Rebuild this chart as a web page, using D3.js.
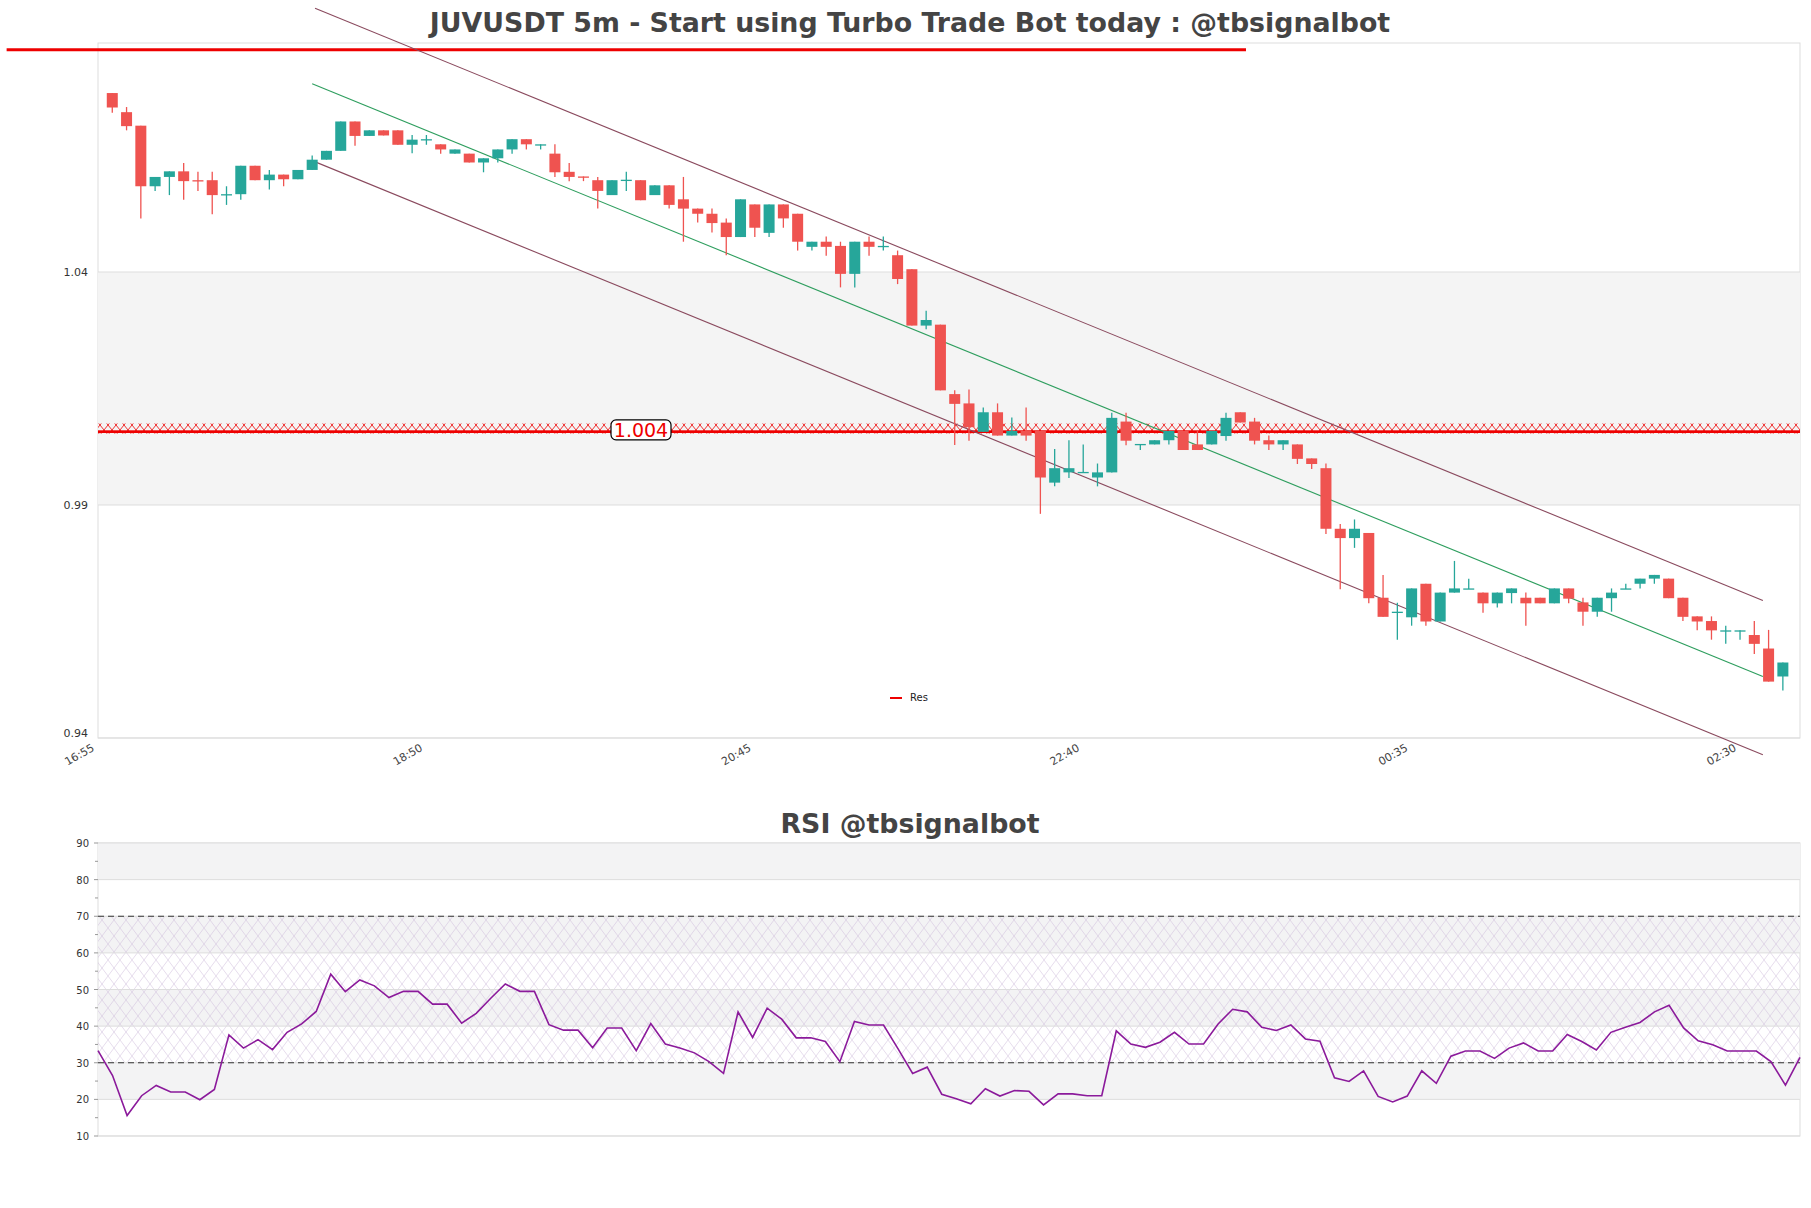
<!DOCTYPE html>
<html><head><meta charset="utf-8">
<script src="https://cdn.jsdelivr.net/npm/d3@7"></script>
<style>body{margin:0;background:#fff}svg{display:block;font-family:"DejaVu Sans",sans-serif}</style>
</head><body><svg id="c" width="1811" height="1208"></svg>
<script>
const opens=[1.0784,1.0743,1.0714,1.0584,1.0604,1.0616,1.0597,1.0597,1.0565,1.0567,1.0628,1.0597,1.0609,1.0599,1.0619,1.0641,1.0660,1.0723,1.0692,1.0704,1.0704,1.0673,1.0684,1.0674,1.0654,1.0654,1.0635,1.0644,1.0663,1.0685,1.0674,1.0654,1.0615,1.0605,1.0597,1.0565,1.0597,1.0597,1.0565,1.0586,1.0556,1.0536,1.0525,1.0506,1.0475,1.0545,1.0484,1.0545,1.0525,1.0454,1.0465,1.0456,1.0396,1.0465,1.0455,1.0436,1.0406,1.0285,1.0287,1.0138,1.0118,1.0057,1.0099,1.0049,1.0059,1.0059,0.9948,0.9970,0.9970,0.9959,0.9970,1.0079,1.0030,1.0030,1.0039,1.0059,1.0030,1.0030,1.0048,1.0099,1.0079,1.0039,1.0030,1.0030,1.0000,0.9979,0.9849,0.9829,0.9840,0.9701,0.9670,0.9659,0.9731,0.9650,0.9712,0.9721,0.9712,0.9689,0.9711,0.9701,0.9701,0.9689,0.9721,0.9691,0.9671,0.9700,0.9720,0.9731,0.9742,0.9742,0.9701,0.9661,0.9651,0.9631,0.9631,0.9621,0.9592,0.9532];
const highs=[1.0784,1.0754,1.0714,1.0604,1.0616,1.0634,1.0615,1.0615,1.0584,1.0628,1.0628,1.0619,1.0609,1.0619,1.0650,1.0660,1.0723,1.0723,1.0704,1.0704,1.0704,1.0694,1.0694,1.0674,1.0663,1.0654,1.0644,1.0663,1.0685,1.0685,1.0674,1.0674,1.0634,1.0605,1.0604,1.0597,1.0615,1.0597,1.0586,1.0586,1.0604,1.0536,1.0536,1.0515,1.0556,1.0545,1.0545,1.0545,1.0525,1.0465,1.0476,1.0465,1.0465,1.0476,1.0476,1.0446,1.0406,1.0317,1.0287,1.0146,1.0148,1.0109,1.0118,1.0088,1.0109,1.0059,1.0020,1.0039,1.0030,0.9989,1.0098,1.0098,1.0031,1.0039,1.0059,1.0059,1.0059,1.0059,1.0098,1.0099,1.0087,1.0049,1.0039,1.0030,1.0000,0.9989,0.9859,0.9869,0.9840,0.9750,0.9690,0.9721,0.9731,0.9712,0.9780,0.9742,0.9712,0.9712,0.9721,0.9712,0.9701,0.9721,0.9721,0.9701,0.9701,0.9721,0.9731,0.9742,0.9750,0.9742,0.9701,0.9661,0.9661,0.9641,0.9631,0.9651,0.9632,0.9562];
const lows=[1.0742,1.0704,1.0515,1.0574,1.0565,1.0555,1.0574,1.0524,1.0544,1.0555,1.0597,1.0577,1.0584,1.0599,1.0619,1.0641,1.0660,1.0671,1.0692,1.0693,1.0673,1.0655,1.0673,1.0654,1.0654,1.0635,1.0614,1.0635,1.0654,1.0663,1.0663,1.0604,1.0595,1.0595,1.0536,1.0565,1.0574,1.0554,1.0565,1.0536,1.0465,1.0506,1.0485,1.0436,1.0475,1.0475,1.0475,1.0495,1.0446,1.0446,1.0435,1.0367,1.0367,1.0435,1.0446,1.0374,1.0285,1.0277,1.0146,1.0029,1.0038,1.0057,1.0049,1.0049,1.0038,0.9881,0.9940,0.9958,0.9970,0.9940,0.9970,1.0028,1.0018,1.0030,1.0030,1.0018,1.0018,1.0030,1.0038,1.0077,1.0030,1.0018,1.0018,0.9988,0.9977,0.9838,0.9719,0.9808,0.9689,0.9660,0.9611,0.9641,0.9641,0.9650,0.9712,0.9720,0.9669,0.9680,0.9689,0.9641,0.9689,0.9689,0.9689,0.9641,0.9660,0.9671,0.9720,0.9721,0.9731,0.9700,0.9651,0.9631,0.9611,0.9602,0.9611,0.9580,0.9521,0.9502];
const closes=[1.0753,1.0713,1.0584,1.0604,1.0616,1.0595,1.0595,1.0565,1.0567,1.0628,1.0597,1.0609,1.0599,1.0619,1.0641,1.0660,1.0723,1.0692,1.0704,1.0693,1.0673,1.0684,1.0685,1.0663,1.0663,1.0635,1.0644,1.0663,1.0685,1.0674,1.0674,1.0614,1.0604,1.0604,1.0574,1.0597,1.0598,1.0554,1.0586,1.0544,1.0536,1.0525,1.0505,1.0475,1.0556,1.0495,1.0545,1.0515,1.0465,1.0465,1.0454,1.0396,1.0465,1.0454,1.0456,1.0385,1.0285,1.0297,1.0146,1.0117,1.0067,1.0099,1.0049,1.0059,1.0049,0.9959,0.9979,0.9979,0.9971,0.9970,1.0087,1.0038,1.0031,1.0039,1.0059,1.0018,1.0018,1.0059,1.0087,1.0077,1.0038,1.0030,1.0039,0.9999,0.9988,0.9849,0.9829,0.9849,0.9700,0.9660,0.9671,0.9721,0.9650,0.9712,0.9721,0.9721,0.9689,0.9712,0.9721,0.9689,0.9689,0.9721,0.9699,0.9671,0.9701,0.9712,0.9721,0.9742,0.9750,0.9700,0.9660,0.9650,0.9631,0.9631,0.9631,0.9602,0.9521,0.9562];
const rsi=[33.3,26.5,15.6,21,23.8,22,22,19.9,22.7,37.6,34,36.3,33.6,38.3,40.6,44,54.2,49.4,52.6,51,47.8,49.5,49.5,46,46,40.8,43.5,47.6,51.5,49.5,49.5,40.4,38.9,38.9,34.1,39.5,39.5,33.3,40.7,35.1,34,32.7,30.3,27.1,43.9,36.9,44.9,41.9,36.8,36.8,35.8,30.3,41.3,40.3,40.3,33.8,27.1,28.8,
21.4,20.2,18.8,22.9,20.9,22.4,22.2,18.5,21.5,21.5,21.0,21.0,38.7,35.1,34.2,35.6,38.3,35.1,35.1,40.6,44.6,43.9,39.7,38.8,40.3,36.5,35.9,25.9,24.9,27.8,20.8,19.3,20.9,27.8,24.4,31.8,33.2,33.2,31.2,34.0,35.4,33.2,33.2,37.7,35.8,33.5,38.3,39.7,41.0,43.9,45.7,39.5,36.0,34.9,33.2,33.2,33.2,30.3,23.9,31.5];
const tickIdx=[-1,22,45,68,91,114];
const tickLabels=["16:55","18:50","20:45","22:40","00:35","02:30"];
const priceTicks=[1.04,0.99,0.94];
const resLevel=1.0057, resBandTop=1.0075, resBandBot=1.0053, resLabel="1.004";
const topLine={x0:-7.4,x1:79.4,v:1.0877};
const chanMid=[[14,1.0804],[115.6,0.9532]];
const chanUp=[[14.2,1.0966],[115.6,0.9695]];
const chanLo=[[14,1.0639],[115.6,0.9364]];
const rsiTicks=[10,20,30,40,50,60,70,80,90];

const svg=d3.select("#c");
const L=98,R=1800,T=43,B=738;
const x=d3.scaleLinear().domain([-1,118.2]).range([L,R]);
const y=d3.scaleLinear().domain([0.94,1.04]).range([B,272]);
const defs=svg.append("defs");
const hp=defs.append("pattern").attr("id","hx").attr("width",8).attr("height",10).attr("patternUnits","userSpaceOnUse");
hp.append("path").attr("d","M0,0L8,10M8,0L0,10M0,0H8").attr("stroke","#e00").attr("stroke-width",0.8);
const rp=defs.append("pattern").attr("id","rh").attr("width",12).attr("height",16).attr("patternUnits","userSpaceOnUse");
rp.append("path").attr("d","M0,0L12,16M12,0L0,16").attr("stroke","#cdb8d8").attr("stroke-width",0.5).attr("fill","none");

svg.append("text").attr("x",910).attr("y",32).attr("text-anchor","middle").attr("font-size",26.8).attr("font-weight","bold").attr("fill","#444").text("JUVUSDT 5m - Start using Turbo Trade Bot today : @tbsignalbot");
svg.append("rect").attr("x",L).attr("y",T).attr("width",R-L).attr("height",B-T).attr("fill","#fff").attr("stroke","#ddd");
svg.append("rect").attr("x",L).attr("y",y(1.04)).attr("width",R-L).attr("height",y(0.99)-y(1.04)).attr("fill","#f4f4f4");
priceTicks.forEach(v=>{
  svg.append("line").attr("x1",L).attr("x2",R).attr("y1",y(v)).attr("y2",y(v)).attr("stroke","#ddd");
  svg.append("text").attr("x",L-10).attr("y",y(v)+(v===0.94?-1:4)).attr("text-anchor","end").attr("font-size",11).attr("fill","#333").text(v.toFixed(2));
});
svg.append("rect").attr("x",L).attr("y",y(resBandTop)).attr("width",R-L).attr("height",y(resBandBot)-y(resBandTop)).attr("fill","url(#hx)");
svg.append("line").attr("x1",L).attr("x2",R).attr("y1",y(resLevel)).attr("y2",y(resLevel)).attr("stroke","#e00").attr("stroke-width",2.5);
svg.append("line").attr("x1",x(topLine.x0)).attr("x2",x(topLine.x1)).attr("y1",y(topLine.v)).attr("y2",y(topLine.v)).attr("stroke","#e00").attr("stroke-width",3);
[[chanUp,"#8a4a5e"],[chanMid,"#2e9e5e"],[chanLo,"#8a4a5e"]].forEach(([c,col])=>{
  svg.append("line").attr("x1",x(c[0][0])).attr("y1",y(c[0][1])).attr("x2",x(c[1][0])).attr("y2",y(c[1][1])).attr("stroke",col).attr("stroke-width",1.1);
});
const g=svg.append("g");
opens.forEach((o,i)=>{
  const c=closes[i],up=c>=o,col=up?"#26a69a":"#ef5350",cx=x(i);
  g.append("line").attr("x1",cx).attr("x2",cx).attr("y1",y(highs[i])).attr("y2",y(lows[i])).attr("stroke",col).attr("stroke-width",1.3);
  const t=y(Math.max(o,c)),b=y(Math.min(o,c));
  g.append("rect").attr("x",cx-5.5).attr("y",t).attr("width",11).attr("height",Math.max(1.3,b-t)).attr("fill",col);
});
const lx=641,ly=y(resLevel)-2;
svg.append("rect").attr("x",lx-30).attr("y",ly-10).attr("width",60).attr("height",20).attr("rx",5).attr("fill","#fff").attr("stroke","#000").attr("stroke-width",1.2);
svg.append("text").attr("x",lx).attr("y",ly+7).attr("text-anchor","middle").attr("font-size",19).attr("fill","#e00").text(resLabel);
svg.append("line").attr("x1",890).attr("x2",902).attr("y1",698).attr("y2",698).attr("stroke","#e00").attr("stroke-width",2);
svg.append("text").attr("x",910).attr("y",701).attr("font-size",10).attr("fill","#222").text("Res");
tickIdx.forEach((t,k)=>{
  svg.append("text").attr("transform",`translate(${x(t)-3},${B+12}) rotate(-30)`).attr("text-anchor","end").attr("font-size",11).attr("fill","#444").text(tickLabels[k]);
});

const RT=843,RB=1136;
const xr=d3.scaleLinear().domain([0,rsi.length-1]).range([L,R]);
const yr=d3.scaleLinear().domain([10,90]).range([RB,RT]);
svg.append("text").attr("x",910).attr("y",833).attr("text-anchor","middle").attr("font-size",26.8).attr("font-weight","bold").attr("fill","#444").text("RSI @tbsignalbot");
svg.append("rect").attr("x",L).attr("y",RT).attr("width",R-L).attr("height",RB-RT).attr("fill","#fff").attr("stroke","#ddd");
[[20,30],[40,50],[60,70],[80,90]].forEach(([a,b])=>svg.append("rect").attr("x",L).attr("y",yr(b)).attr("width",R-L).attr("height",yr(a)-yr(b)).attr("fill","#f3f3f4"));
svg.append("rect").attr("x",L).attr("y",yr(70)).attr("width",R-L).attr("height",yr(30)-yr(70)).attr("fill","url(#rh)");
rsiTicks.forEach(v=>{
  svg.append("line").attr("x1",L).attr("x2",R).attr("y1",yr(v)).attr("y2",yr(v)).attr("stroke","#ddd");
  svg.append("line").attr("x1",L-4).attr("x2",L).attr("y1",yr(v)).attr("y2",yr(v)).attr("stroke","#999");
  if(v<90) svg.append("line").attr("x1",L-3).attr("x2",L).attr("y1",yr(v+5)).attr("y2",yr(v+5)).attr("stroke","#999");
  svg.append("text").attr("x",L-9).attr("y",yr(v)+4).attr("text-anchor","end").attr("font-size",10).attr("fill","#333").text(v);
});
[30,70].forEach(v=>svg.append("line").attr("x1",L).attr("x2",R).attr("y1",yr(v)).attr("y2",yr(v)).attr("stroke","#333").attr("stroke-dasharray","6,4").attr("stroke-width",1.2));
svg.append("path").datum(rsi).attr("d",d3.line().x((d,i)=>xr(i)).y(d=>yr(d))).attr("fill","none").attr("stroke","#8b1a9b").attr("stroke-width",1.6);
</script></body></html>
